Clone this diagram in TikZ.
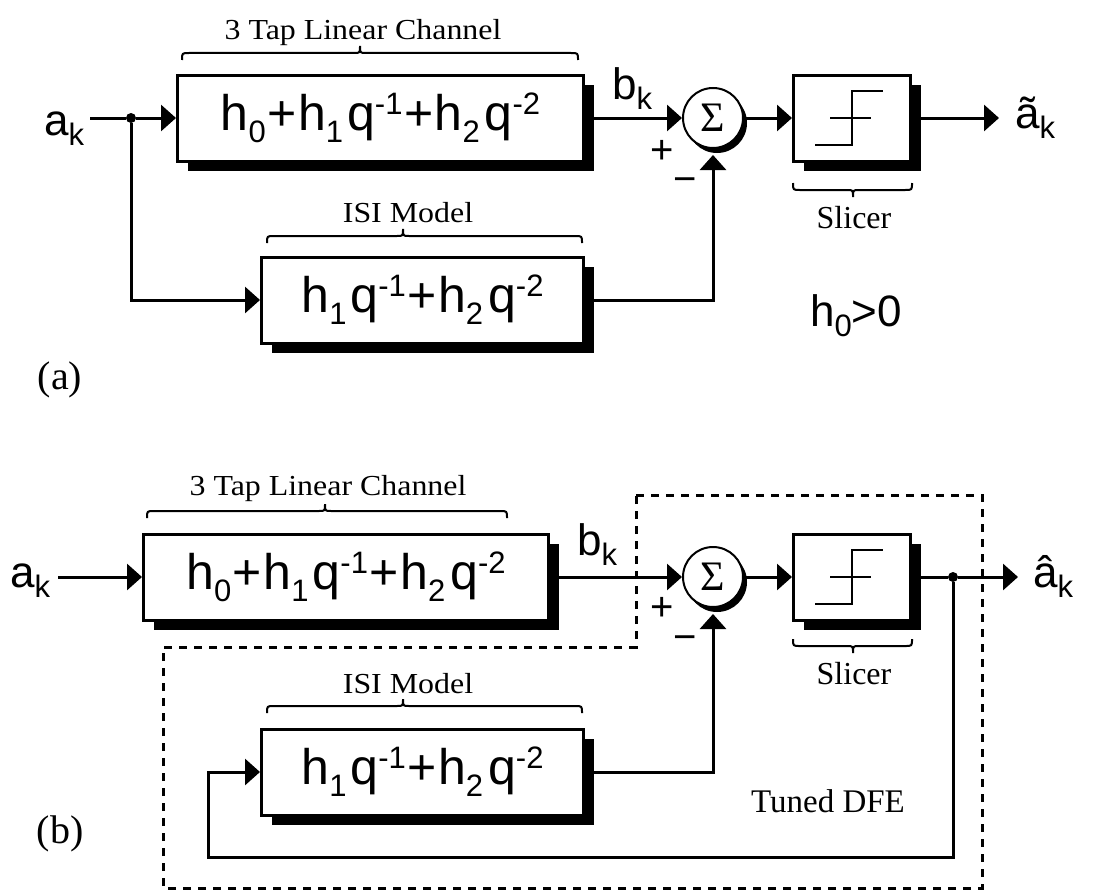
\documentclass[tikz,border=0pt]{standalone}
\usepackage{fontspec}
\setmainfont{Liberation Serif}
\newfontfamily\hfont{Liberation Sans}
\usetikzlibrary{arrows.meta,shadows}

% lowered / raised indices in the transfer-function labels
\newcommand\lowr[1]{\raisebox{-0.24em}{\fontsize{31}{31}\selectfont #1}}
\newcommand\uppr[1]{\raisebox{0.32em}{\fontsize{31}{31}\selectfont #1}}
\newcommand\sig[2]{#1\lowr{#2}}
\newcommand\pls{\kern1.5pt+\kern1.5pt}
\newcommand\fullexpr{h\lowr{0}\pls h\lowr{1}\kern4pt q\uppr{-1}\pls h\lowr{2}\kern5pt q\uppr{-2}}
\newcommand\isiexpr{h\lowr{1}\kern4pt q\uppr{-1}\pls h\lowr{2}\kern5pt q\uppr{-2}}

% brace: x-left, x-right, x-tip, y, curl (positive: ends go down, tip goes up)
\newcommand\tapbrace[5]{%
  \draw[bracepen] (#1,{#4+(#5)}) .. controls (#1,#4) .. ({#1+7},#4)
    -- ({#3-6},#4) .. controls (#3,#4) .. (#3,{#4-(#5)})
    .. controls (#3,#4) .. ({#3+6},#4)
    -- ({#2-7},#4) .. controls (#2,#4) .. (#2,{#4+(#5)});}

\tikzset{
  wire/.style={line width=3pt},
  arr/.style={wire,-{Triangle[length=15pt,width=26pt]}},
  blk/.style={draw,line width=3pt,fill=white,inner sep=0pt,
    minimum height=86pt,
    drop shadow={shadow xshift=10pt,shadow yshift=-10pt,opacity=1,fill=black}},
  sumnode/.style={circle,draw,line width=2pt,fill=white,minimum size=60pt,
    inner sep=0pt,font=\fontsize{42}{42}\selectfont,
    drop shadow={shadow xshift=4pt,shadow yshift=-5pt,opacity=1,fill=black}},
  dot/.style={circle,fill=black,minimum size=10pt,inner sep=0pt},
  expr/.style={font=\hfont\fontsize{50}{50}\selectfont},
  sym/.style={inner sep=0pt,font=\hfont\fontsize{44}{44}\selectfont},
  sgn/.style={inner sep=0pt,font=\hfont\fontsize{40}{40}\selectfont},
  bracetxt/.style={inner sep=0pt,anchor=base,font=\fontsize{29}{29}\selectfont},
  lbl/.style={inner sep=0pt,font=\fontsize{32}{32}\selectfont},
  bracepen/.style={line width=2pt},
  steppen/.style={line width=2.5pt},
  dfebox/.style={line width=3pt,dash pattern=on 8pt off 7pt}
}

\begin{document}
\begin{tikzpicture}[x=1pt,y=-1pt]
\useasboundingbox[fill=white] (0,0) rectangle (1099,891);

% ---------------- (a) ----------------
\node[sym,anchor=base west] (ina) at (44,135) {\sig{a}{k}};
\node[dot] (ja) at (131,118) {};
\node[blk,expr,minimum width=406pt] (cha) at (380.5,118) {\fullexpr};
\node[blk,expr,minimum width=322pt] (isia) at (422.5,300) {\isiexpr};
\node[sumnode] (suma) at (713,118) {Σ};
\node[blk,minimum width=117pt] (slca) at (852,118) {};
\coordinate (outa) at (999,118);
\node[sym,anchor=base west] (bka) at (612,99) {\sig{b}{k}};
\node[sym,anchor=base west] (ta) at (1015,128) {\sig{ã}{k}};

\node[bracetxt] (chla) at (363,40) {\scalebox{1.1}[1]{3 Tap Linear Channel}};
\tapbrace{182}{578}{360}{53}{7}
\node[bracetxt] (isila) at (408,222) {\scalebox{1.1}[1]{ISI Model}};
\tapbrace{267}{582}{403}{236}{7}
\tapbrace{793}{912}{853}{190}{-7}
\node[lbl,anchor=base] (slla) at (854,228) {Slicer};

\node[sym,anchor=base west] (hcond) at (810,326) {\sig{h}{0}>0};
\node[inner sep=0pt,font=\fontsize{40}{40}\selectfont] (pa) at (60,380) {(a)};

\node[sgn] (plusa) at (662,152) {+};
\node[sgn] (minusa) at (685,185) {\char"2212};

\draw[wire] (ina.base east |- ja) ++(6pt,0) -- (ja);
\draw[arr] (ja) -- (cha.west);
\draw[arr] (ja) |- (isia.west);
\draw[arr] (cha.east) -- (suma.west);
\draw[arr] (isia.east) -| ([yshift=-6pt]suma.south);
\draw[arr] (suma.east) -- (slca.west);
\draw[arr] (slca.east) -- (outa);

% step characteristic inside the slicer
\draw[steppen] ([shift={(-37pt,-27pt)}]slca.center) -- ([shift={(0pt,-27pt)}]slca.center)
  -- ([shift={(0pt,27pt)}]slca.center) -- ([shift={(31pt,27pt)}]slca.center);
\draw[steppen] ([shift={(-22pt,0pt)}]slca.center) -- ([shift={(19pt,0pt)}]slca.center);

% ---------------- (b) ----------------
\node[sym,anchor=base west] (inb) at (10,587) {\sig{a}{k}};
\node[blk,expr,minimum width=405pt] (chb) at (346,577) {\fullexpr};
\node[blk,expr,minimum width=322pt] (isib) at (422.5,772) {\isiexpr};
\node[sumnode] (sumb) at (713,577) {Σ};
\node[blk,minimum width=117pt] (slcb) at (852,577) {};
\node[dot] (jb) at (953,577) {};
\coordinate (outb) at (1018,577);
\node[sym,anchor=base west] (bkb) at (577,555) {\sig{b}{k}};
\node[sym,anchor=base west] (hb) at (1033,587) {\sig{â}{k}};
\coordinate (fbl) at (208,857);

\node[bracetxt] (chlb) at (328,495) {\scalebox{1.1}[1]{3 Tap Linear Channel}};
\tapbrace{147}{507}{325}{511}{7}
\node[bracetxt] (isilb) at (408,693) {\scalebox{1.1}[1]{ISI Model}};
\tapbrace{267}{582}{403}{706}{7}
\tapbrace{793}{912}{853}{646}{-7}
\node[lbl,anchor=base] (sllb) at (854,684) {Slicer};
\node[lbl,anchor=base,font=\fontsize{33}{33}\selectfont] (dfe) at (828,812) {Tuned DFE};
\node[inner sep=0pt,font=\fontsize{40}{40}\selectfont] (pb) at (60,834) {(b)};

\node[sgn] (plusb) at (662,609) {+};
\node[sgn] (minusb) at (685,643) {\char"2212};

\draw[arr] (inb.base east |- chb.west) ++(8pt,0) -- (chb.west);
\draw[arr] (chb.east) -- (sumb.west);
\draw[arr] (isib.east) -| ([yshift=-6pt]sumb.south);
\draw[arr] (sumb.east) -- (slcb.west);
\draw[wire] (slcb.east) -- (jb);
\draw[arr] (jb) -- (outb);
\draw[arr] (jb) |- (fbl) |- (isib.west);

\draw[steppen] ([shift={(-37pt,-27pt)}]slcb.center) -- ([shift={(0pt,-27pt)}]slcb.center)
  -- ([shift={(0pt,27pt)}]slcb.center) -- ([shift={(31pt,27pt)}]slcb.center);
\draw[steppen] ([shift={(-22pt,0pt)}]slcb.center) -- ([shift={(19pt,0pt)}]slcb.center);

% boundary of the tuned decision-feedback equalizer
\draw[dfebox] (636,495) -- (982,495) -- (982,888) -- (163,888) -- (163,647)
  -- (636,647) -- cycle;
\end{tikzpicture}
\end{document}
